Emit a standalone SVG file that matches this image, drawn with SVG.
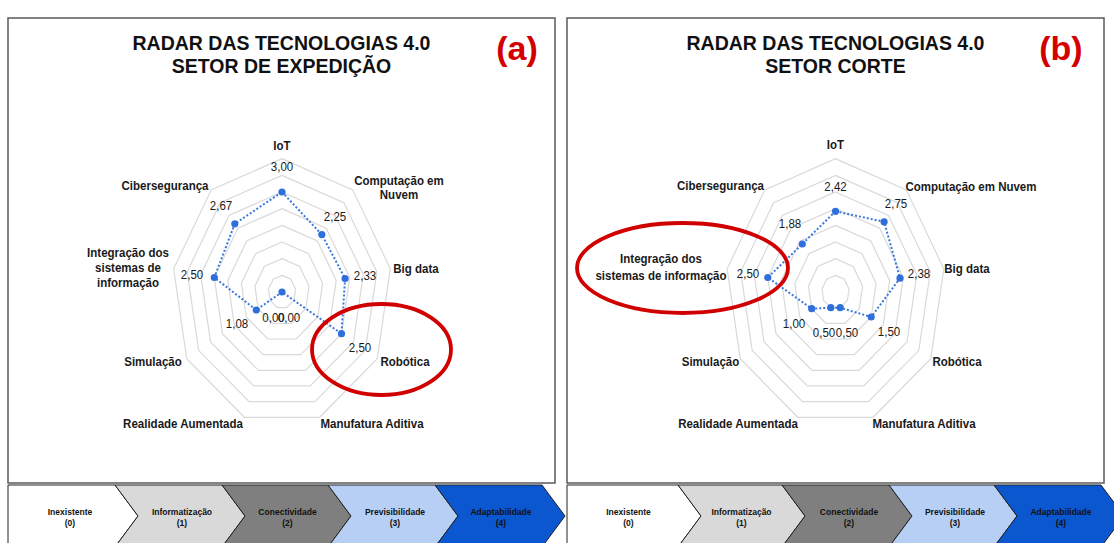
<svg xmlns="http://www.w3.org/2000/svg" xmlns:xlink="http://www.w3.org/1999/xlink" width="1114" height="543" viewBox="0 0 1114 543">
<defs>
<style>
.pb{fill:#fff;stroke:#5a5a5a;stroke-width:1.5}
.t{font-family:"Liberation Sans",Arial,sans-serif;font-weight:bold;font-size:19.5px;fill:#111;text-anchor:middle}
.tag{font-family:"Liberation Sans",Arial,sans-serif;font-weight:bold;font-size:34px;fill:#d40000;text-anchor:middle}
.ring{fill:none;stroke:#d9d9d9;stroke-width:1.2;vector-effect:non-scaling-stroke}
.data{fill:none;stroke:#3b78de;stroke-width:2;stroke-dasharray:2 2}
.pt{fill:#2f6fdc}
.ax{font-family:"Liberation Sans",Arial,sans-serif;font-weight:bold;font-size:12.8px;fill:#1a1a1a;text-anchor:middle}
.v{font-family:"Liberation Sans",Arial,sans-serif;font-size:12.8px;fill:#1a1a1a;text-anchor:middle}
.oval{fill:none;stroke:#d00000;stroke-width:3.8}
.chev{stroke:#222;stroke-width:1}
.ct{font-family:"Liberation Sans",Arial,sans-serif;font-weight:bold;font-size:9.5px;fill:#111;text-anchor:middle}
</style>
<polygon id="ring" class="ring" points="0,-1 0.5303,-0.766 0.8125,-0.1736 0.7145,0.5 0.2822,0.9397 -0.2822,0.9397 -0.7145,0.5 -0.8125,-0.1736 -0.5303,-0.766"/>
<g id="rings">
<use xlink:href="#ring" transform="scale(16.667)"/>
<use xlink:href="#ring" transform="scale(33.333)"/>
<use xlink:href="#ring" transform="scale(50)"/>
<use xlink:href="#ring" transform="scale(66.667)"/>
<use xlink:href="#ring" transform="scale(83.333)"/>
<use xlink:href="#ring" transform="scale(100)"/>
<use xlink:href="#ring" transform="scale(116.667)"/>
<use xlink:href="#ring" transform="scale(133.333)"/>
</g>
</defs>

<g id="panel-a">
<rect class="pb" x="8" y="18" width="547" height="465"/>
<text class="t" x="281.5" y="50">RADAR DAS TECNOLOGIAS 4.0</text>
<text class="t" x="281.5" y="73">SETOR DE EXPEDIÇÃO</text>
<text class="tag" x="517" y="60">(a)</text>
<use xlink:href="#rings" transform="translate(282,292)"/>
<polygon class="data" points="282,192 321.8,234.6 345.1,278.5 341.5,333.7 282,292 282,292 256.3,310 214.3,277.5 234.8,223.8"/>
<g class="pt">
<circle cx="282" cy="192" r="3.6"/><circle cx="321.8" cy="234.6" r="3.6"/><circle cx="345.1" cy="278.5" r="3.6"/><circle cx="341.5" cy="333.7" r="3.6"/><circle cx="282" cy="292" r="3.6"/><circle cx="256.3" cy="310" r="3.6"/><circle cx="214.3" cy="277.5" r="3.6"/><circle cx="234.8" cy="223.8" r="3.6"/>
</g>
<g transform="scale(0.9,1)">
<text class="ax" x="313.33" y="150">IoT</text>
<text class="ax" x="443.33" y="185">Computação em</text>
<text class="ax" x="443.33" y="199">Nuvem</text>
<text class="ax" x="462.22" y="273">Big data</text>
<text class="ax" x="450" y="366">Robótica</text>
<text class="ax" x="413.33" y="428">Manufatura Aditiva</text>
<text class="ax" x="203.33" y="428">Realidade Aumentada</text>
<text class="ax" x="170" y="366">Simulação</text>
<text class="ax" x="142.22" y="257">Integração dos</text>
<text class="ax" x="142.22" y="272">sistemas de</text>
<text class="ax" x="142.22" y="287">informação</text>
<text class="ax" x="183.33" y="190">Cibersegurança</text>
<text class="v" x="313.33" y="171">3,00</text>
<text class="v" x="372.22" y="221">2,25</text>
<text class="v" x="405.56" y="280">2,33</text>
<text class="v" x="400" y="352">2,50</text>
<text class="v" x="321.11" y="322">0,00</text>
<text class="v" x="303.89" y="322">0,00</text>
<text class="v" x="263.33" y="328">1,08</text>
<text class="v" x="213.33" y="279">2,50</text>
<text class="v" x="245.56" y="210">2,67</text>
</g>
<ellipse class="oval" cx="381.5" cy="349.5" rx="69.5" ry="45.5"/>
</g>

<g id="panel-b">
<rect class="pb" x="567" y="18" width="537" height="465"/>
<text class="t" x="835.5" y="50">RADAR DAS TECNOLOGIAS 4.0</text>
<text class="t" x="835.5" y="73">SETOR CORTE</text>
<text class="tag" x="1061" y="60">(b)</text>
<use xlink:href="#rings" transform="translate(835.5,292)"/>
<polygon class="data" points="835.5,211.3 884.1,221.8 900,278.2 871.2,317 840.2,307.7 830.8,307.7 811.7,308.7 767.8,277.5 802.3,244"/>
<g class="pt">
<circle cx="835.5" cy="211.3" r="3.6"/><circle cx="884.1" cy="221.8" r="3.6"/><circle cx="900" cy="278.2" r="3.6"/><circle cx="871.2" cy="317" r="3.6"/><circle cx="840.2" cy="307.7" r="3.6"/><circle cx="830.8" cy="307.7" r="3.6"/><circle cx="811.7" cy="308.7" r="3.6"/><circle cx="767.8" cy="277.5" r="3.6"/><circle cx="802.3" cy="244" r="3.6"/>
</g>
<g transform="scale(0.9,1)">
<text class="ax" x="928.33" y="149">IoT</text>
<text class="ax" x="1078.89" y="191">Computação em Nuvem</text>
<text class="ax" x="1074.44" y="273">Big data</text>
<text class="ax" x="1063.33" y="366">Robótica</text>
<text class="ax" x="1026.67" y="428">Manufatura Aditiva</text>
<text class="ax" x="820" y="428">Realidade Aumentada</text>
<text class="ax" x="789.44" y="366">Simulação</text>
<text class="ax" x="734.44" y="263">Integração dos</text>
<text class="ax" x="734.44" y="280">sistemas de informação</text>
<text class="ax" x="800.56" y="190">Cibersegurança</text>
<text class="v" x="928.33" y="191">2,42</text>
<text class="v" x="995.56" y="208">2,75</text>
<text class="v" x="1021.11" y="278">2,38</text>
<text class="v" x="987.78" y="336">1,50</text>
<text class="v" x="941.11" y="337">0,50</text>
<text class="v" x="915.56" y="337">0,50</text>
<text class="v" x="882.22" y="328">1,00</text>
<text class="v" x="831.11" y="278">2,50</text>
<text class="v" x="877.78" y="228">1,88</text>
</g>
<ellipse class="oval" cx="682.5" cy="268" rx="105.5" ry="45"/>
</g>

<g id="scale-a">
<polygon class="chev" fill="#ffffff" points="8,485 115,485 138,516 115,547 8,547"/>
<polygon class="chev" fill="#d9d9d9" points="115,485 222,485 245,516 222,547 115,547 138,516"/>
<polygon class="chev" fill="#7f7f7f" points="222,485 328,485 351,516 328,547 222,547 245,516"/>
<polygon class="chev" fill="#b7cff5" points="328,485 435,485 458,516 435,547 328,547 351,516"/>
<polygon class="chev" fill="#0b57d0" points="435,485 542,485 565,516 542,547 435,547 458,516"/>
<g transform="scale(0.9,1)">
<text class="ct" x="77.78" y="515">Inexistente</text><text class="ct" x="77.78" y="526">(0)</text>
<text class="ct" x="202.22" y="515">Informatização</text><text class="ct" x="202.22" y="526">(1)</text>
<text class="ct" x="319.44" y="515">Conectividade</text><text class="ct" x="319.44" y="526">(2)</text>
<text class="ct" x="438.89" y="515">Previsibilidade</text><text class="ct" x="438.89" y="526">(3)</text>
<text class="ct" x="556.67" y="515">Adaptabilidade</text><text class="ct" x="556.67" y="526">(4)</text>
</g>
</g>

<g id="scale-b">
<polygon class="chev" fill="#ffffff" points="567,485 678,485 701,516 678,547 567,547"/>
<polygon class="chev" fill="#d9d9d9" points="678,485 782,485 805,516 782,547 678,547 701,516"/>
<polygon class="chev" fill="#7f7f7f" points="782,485 889,485 912,516 889,547 782,547 805,516"/>
<polygon class="chev" fill="#b7cff5" points="889,485 994,485 1017,516 994,547 889,547 912,516"/>
<polygon class="chev" fill="#0b57d0" points="994,485 1101,485 1124,516 1101,547 994,547 1017,516"/>
<g transform="scale(0.9,1)">
<text class="ct" x="698.33" y="515">Inexistente</text><text class="ct" x="698.33" y="526">(0)</text>
<text class="ct" x="823.89" y="515">Informatização</text><text class="ct" x="823.89" y="526">(1)</text>
<text class="ct" x="943.33" y="515">Conectividade</text><text class="ct" x="943.33" y="526">(2)</text>
<text class="ct" x="1061.11" y="515">Previsibilidade</text><text class="ct" x="1061.11" y="526">(3)</text>
<text class="ct" x="1178.89" y="515">Adaptabilidade</text><text class="ct" x="1178.89" y="526">(4)</text>
</g>
</g>
</svg>
